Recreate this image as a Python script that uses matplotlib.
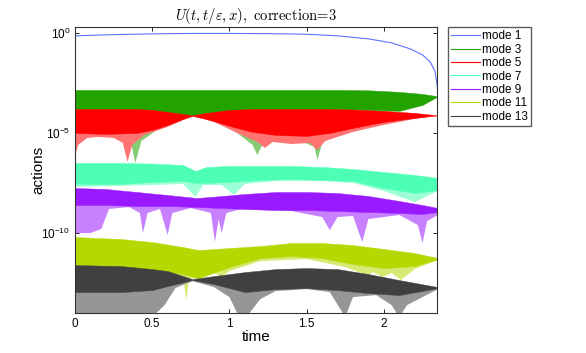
import numpy as np
import matplotlib
matplotlib.use("Agg")
import matplotlib.pyplot as plt
from matplotlib.lines import Line2D
from matplotlib.colors import to_rgb

plt.rcParams["font.family"] = ["Liberation Sans", "DejaVu Sans"]
plt.rcParams["mathtext.fontset"] = "cm"

# all band values are log10(action)
# mode 1: a single smooth curve
t1 = [0, 0.25, 0.5, 0.75, 1.0, 1.25, 1.5, 1.7, 1.9, 2.05, 2.17, 2.25, 2.3, 2.33, 2.345, 2.35]
v1 = [-0.15, -0.09, -0.05, -0.03, -0.03, -0.04, -0.07, -0.15, -0.3, -0.5, -0.8, -1.1, -1.45, -1.9, -2.6, -3.2]

# mode 3
t3 = [0, 0.4, 0.5, 0.6, 0.7, 0.76, 0.85, 1.0, 1.15, 1.5, 1.7, 1.9, 2.1, 2.25, 2.35]
up3 = [-2.85, -2.85, -2.85, -2.85, -2.85, -2.85, -2.85, -2.85, -2.85, -2.85, -2.85, -2.87, -2.95, -3.05, -3.17]
lo3 = [-3.8, -3.8, -3.85, -3.95, -4.05, -4.12, -4.0, -3.85, -3.8, -3.8, -3.8, -3.83, -3.9, -3.6, -3.17]
tm3 = [0, 0.2, 0.35, 0.39, 0.43, 0.55, 0.68, 0.76, 0.9, 1.05, 1.15, 1.18, 1.22, 1.4, 1.55, 1.57, 1.6, 1.8, 2.0, 2.2, 2.35]
m3 = [-4.3, -4.5, -5.0, -6.5, -5.4, -4.75, -4.35, -4.15, -4.35, -5.0, -5.6, -6.1, -5.5, -5.2, -5.7, -6.35, -5.5, -4.6, -4.0, -3.6, -3.17]

# mode 5
t5 = [0, 0.2, 0.4, 0.5, 0.6, 0.7, 0.76, 0.85, 1.0, 1.15, 1.3, 1.5, 1.65, 1.8, 2.0, 2.2, 2.35]
up5 = [-3.8, -3.8, -3.8, -3.85, -3.95, -4.05, -4.12, -4.0, -3.85, -3.8, -3.8, -3.8, -3.8, -3.83, -3.9, -4.0, -4.12]
lo5 = [-5.0, -5.05, -5.0, -4.85, -4.6, -4.3, -4.15, -4.3, -4.65, -4.95, -5.1, -5.15, -5.0, -4.75, -4.45, -4.25, -4.12]
tm5 = [0, 0.02, 0.08, 0.15, 0.25, 0.31, 0.34, 0.37, 0.45, 0.6, 0.76, 0.9, 1.05, 1.18, 1.23, 1.28, 1.4, 1.52, 1.57, 1.62, 1.8, 2.0, 2.2, 2.35]
m5 = [-6.2, -5.6, -5.25, -5.2, -5.25, -5.5, -6.45, -5.6, -5.1, -4.7, -4.15, -4.45, -5.0, -5.45, -5.75, -5.45, -5.55, -5.5, -5.85, -5.4, -4.95, -4.6, -4.3, -4.12]

# mode 7
t7 = [0, 0.3, 0.5, 0.7, 0.78, 0.85, 1.0, 1.2, 1.4, 1.6, 1.8, 2.0, 2.2, 2.35]
up7 = [-6.5, -6.5, -6.53, -6.6, -6.9, -6.7, -6.65, -6.65, -6.65, -6.7, -6.8, -6.95, -7.1, -7.25]
lo7 = [-7.55, -7.55, -7.45, -7.4, -7.5, -7.5, -7.45, -7.35, -7.3, -7.35, -7.4, -7.75, -8.0, -7.85]
tm7 = [0, 0.5, 0.7, 0.78, 0.83, 0.95, 1.03, 1.1, 1.3, 1.6, 1.8, 2.0, 2.2, 2.35]
m7 = [-7.7, -7.6, -7.55, -8.2, -7.6, -7.6, -8.1, -7.55, -7.4, -7.4, -7.5, -7.9, -8.45, -7.9]

# mode 9
t9 = [0, 0.2, 0.4, 0.6, 0.79, 0.95, 1.1, 1.3, 1.5, 1.7, 1.9, 2.1, 2.25, 2.35]
up9 = [-7.75, -7.8, -7.95, -8.1, -8.25, -8.15, -8.05, -7.95, -7.95, -8.0, -8.15, -8.4, -8.6, -8.75]
lo9 = [-8.6, -8.6, -8.65, -8.65, -8.7, -8.75, -8.8, -8.85, -8.85, -8.9, -8.95, -9.0, -9.05, -8.95]
tm9 = [0, 0.1, 0.17, 0.22, 0.35, 0.42, 0.44, 0.47, 0.55, 0.6, 0.63, 0.75, 0.88, 0.906, 0.93, 0.95, 0.98,
       1.1, 1.4, 1.6, 1.65, 1.7, 1.8, 1.86, 1.9, 2.1, 2.22, 2.25, 2.28, 2.35]
m9 = [-10.0, -10.0, -9.8, -8.8, -8.7, -9.0, -10.0, -9.0, -8.8, -10.1, -9.0, -8.75, -9.0, -10.45, -9.3, -10.0, -9.0,
      -8.75, -8.9, -9.2, -9.85, -9.2, -9.15, -10.45, -9.3, -9.1, -9.6, -10.5, -9.4, -9.1]

# mode 11
t11 = [0, 0.3, 0.5, 0.7, 0.8, 1.0, 1.2, 1.4, 1.6, 1.8, 2.0, 2.2, 2.35]
up11 = [-10.2, -10.3, -10.45, -10.7, -10.85, -10.75, -10.65, -10.5, -10.5, -10.6, -10.8, -11.0, -11.25]
lo11 = [-11.6, -11.7, -11.85, -12.05, -12.25, -11.7, -11.25, -11.15, -11.25, -11.55, -11.75, -11.65, -11.3]
tm11 = [0, 0.5, 0.7, 0.72, 0.74, 0.8, 0.9, 0.95, 1.0, 1.2, 1.5, 1.75, 1.85, 1.88, 1.93, 1.99, 2.05, 2.11, 2.2, 2.35]
m11 = [-11.9, -12.0, -12.2, -13.35, -12.25, -12.3, -12.0, -12.2, -11.9, -11.4, -11.3, -11.7, -12.0, -12.2, -11.95,
       -12.2, -12.0, -12.35, -11.8, -11.35]

# mode 13
t13 = [0, 0.3, 0.5, 0.6, 0.76, 0.9, 1.1, 1.3, 1.5, 1.7, 1.9, 2.1, 2.35]
up13 = [-11.6, -11.65, -11.8, -11.9, -12.3, -12.15, -11.95, -11.8, -11.75, -11.8, -12.05, -12.35, -12.7]
lo13 = [-12.95, -12.95, -12.85, -12.65, -12.35, -12.55, -12.95, -12.8, -12.75, -12.85, -13.0, -13.1, -12.75]
tm13 = [0, 0.5, 0.58, 0.65, 0.76, 0.9, 1.0, 1.05, 1.12, 1.2, 1.3, 1.5, 1.65, 1.75, 1.8, 1.95, 2.05, 2.1, 2.15, 2.25, 2.35]
m13 = [-14.2, -14.2, -13.6, -12.75, -12.4, -12.7, -13.2, -14.0, -14.1, -13.3, -12.9, -12.8, -12.95, -14.2, -13.2,
       -13.1, -13.6, -14.2, -13.6, -13.2, -12.8]

labels = ["mode 1", "mode 3", "mode 5", "mode 7", "mode 9", "mode 11", "mode 13"]
colors = ["#5a74ff", "#22a300", "#ff0000", "#4dffb4", "#9a1aff", "#b3d900", "#404040"]

bands = [(t3, up3, lo3, tm3, m3), (t5, up5, lo5, tm5, m5), (t7, up7, lo7, tm7, m7),
         (t9, up9, lo9, tm9, m9), (t11, up11, lo11, tm11, m11), (t13, up13, lo13, tm13, m13)]

fig = plt.figure(figsize=(5.86, 3.53), dpi=100)
ax = fig.add_axes([0.128, 0.113, 0.618, 0.811])
ax.set_yscale("log")

ax.plot(t1, 10 ** np.array(v1), color=colors[0], lw=0.8, zorder=2)

for i, (t, up, lo, tm, m) in enumerate(bands):
    c = colors[i + 1]
    light = 0.55 * np.array(to_rgb(c)) + 0.45
    up = 10 ** np.array(up)
    lo = 10 ** np.array(lo)
    # lighter spiky part below the dense band
    px = np.concatenate([t, tm[::-1]])
    py = np.concatenate([lo, (10 ** np.array(m))[::-1]])
    ax.fill(px, py, color=light, lw=0, zorder=3 + 2 * i)
    ax.fill_between(t, lo, up, color=c, lw=0.3, edgecolor=c, zorder=4 + 2 * i)

ax.set_xlim(0, 2.345)
ax.set_ylim(1e-14, 10 ** 0.3)
ax.set_xticks([0, 0.5, 1, 1.5, 2])
ax.set_xticklabels(["0", "0.5", "1", "1.5", "2"])
ax.set_yticks([1e0, 1e-5, 1e-10])
ax.yaxis.set_minor_locator(matplotlib.ticker.NullLocator())
ax.tick_params(direction="in", top=True, right=True, labelsize=8.5, length=3, width=0.6)
for s in ax.spines.values():
    s.set_linewidth(0.8)
    s.set_color("#333333")
    s.set_zorder(20)

ax.set_xlabel("time", fontsize=11, labelpad=0)
ax.set_ylabel("actions", fontsize=11, labelpad=-3)
ax.set_title(r"$U(t,t/\varepsilon,x),\ \mathrm{correction}\!=\!3$", fontsize=10.5, pad=5)

handles = [Line2D([], [], color=c, lw=0.8) for c in colors]
fig.legend(handles, labels, loc="upper left", bbox_to_anchor=(0.764, 0.924),
           frameon=True, fancybox=False, edgecolor="#333333", fontsize=8.5,
           labelspacing=0.12, handlelength=2.4, handletextpad=0.2, borderpad=0.3,
           borderaxespad=0)

fig.savefig("out.png", dpi=100)
